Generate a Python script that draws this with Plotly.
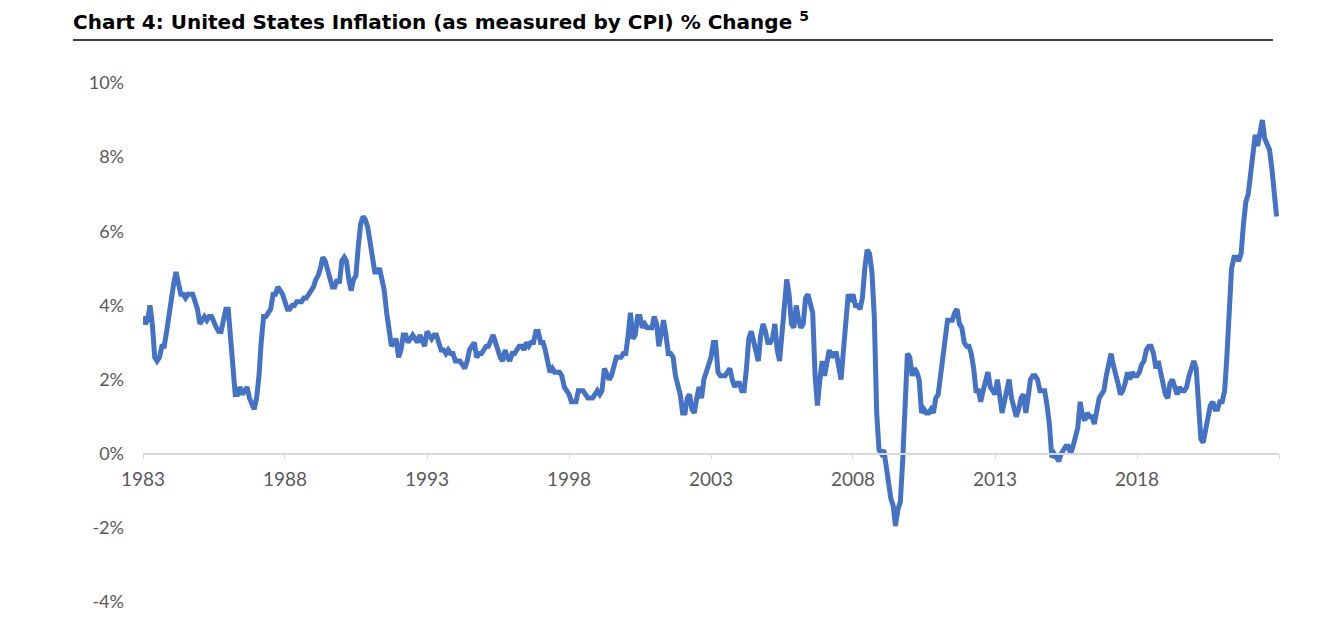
import pandas as pd
import plotly.graph_objs as go

# monthly CPI % change (year on year), Jan 1983 - Dec 2022
cpi_1980s = [
    3.7, 3.5, 3.6, 4.0, 3.5, 2.6, 2.5, 2.6, 2.9, 2.9, 3.3, 3.8,   # 1983
    4.2, 4.6, 4.9, 4.6, 4.3, 4.3, 4.2, 4.3, 4.3, 4.3, 4.1, 3.9,   # 1984
    3.5, 3.6, 3.7, 3.6, 3.7, 3.7, 3.5, 3.4, 3.3, 3.3, 3.6, 3.9,   # 1985
    3.9, 3.1, 2.2, 1.6, 1.6, 1.8, 1.6, 1.7, 1.8, 1.5, 1.3, 1.2,   # 1986
    1.5, 2.1, 3.0, 3.7, 3.7, 3.8, 3.9, 4.3, 4.3, 4.5, 4.4, 4.3,   # 1987
    4.1, 3.9, 3.9, 4.0, 4.0, 4.1, 4.1, 4.1, 4.2, 4.2, 4.3, 4.4,   # 1988
    4.5, 4.7, 4.8, 5.0, 5.3, 5.2, 5.0, 4.7, 4.5, 4.5, 4.7, 4.6,   # 1989
]
cpi_1990s = [
    5.2, 5.3, 5.2, 4.7, 4.4, 4.7, 4.8, 5.6, 6.2, 6.4, 6.3, 6.1,   # 1990
    5.7, 5.3, 4.9, 4.9, 5.0, 4.7, 4.4, 3.8, 3.4, 2.9, 3.0, 3.1,   # 1991
    2.6, 2.8, 3.2, 3.2, 3.0, 3.1, 3.2, 3.1, 3.0, 3.2, 3.0, 2.9,   # 1992
    3.3, 3.2, 3.1, 3.2, 3.2, 3.0, 2.8, 2.8, 2.7, 2.8, 2.7, 2.7,   # 1993
    2.5, 2.5, 2.5, 2.4, 2.3, 2.5, 2.8, 2.9, 3.0, 2.6, 2.7, 2.7,   # 1994
    2.8, 2.9, 2.9, 3.1, 3.2, 3.0, 2.8, 2.6, 2.5, 2.8, 2.6, 2.5,   # 1995
    2.7, 2.7, 2.8, 2.9, 2.9, 2.8, 3.0, 2.9, 3.0, 3.0, 3.3, 3.3,   # 1996
    3.0, 3.0, 2.8, 2.5, 2.2, 2.3, 2.2, 2.2, 2.2, 2.1, 1.8, 1.7,   # 1997
    1.6, 1.4, 1.4, 1.4, 1.7, 1.7, 1.7, 1.6, 1.5, 1.5, 1.5, 1.6,   # 1998
    1.7, 1.6, 1.7, 2.3, 2.1, 2.0, 2.1, 2.3, 2.6, 2.6, 2.6, 2.7,   # 1999
]
cpi_2000s = [
    2.7, 3.2, 3.8, 3.1, 3.2, 3.7, 3.7, 3.4, 3.5, 3.4, 3.4, 3.4,   # 2000
    3.7, 3.5, 2.9, 3.3, 3.6, 3.2, 2.7, 2.7, 2.6, 2.1, 1.9, 1.6,   # 2001
    1.1, 1.1, 1.5, 1.6, 1.2, 1.1, 1.5, 1.8, 1.5, 2.0, 2.2, 2.4,   # 2002
    2.6, 3.0, 3.0, 2.2, 2.1, 2.1, 2.1, 2.2, 2.3, 2.0, 1.8, 1.9,   # 2003
    1.9, 1.7, 1.7, 2.3, 3.1, 3.3, 3.0, 2.7, 2.5, 3.2, 3.5, 3.3,   # 2004
    3.0, 3.0, 3.1, 3.5, 2.8, 2.5, 3.2, 3.6, 4.7, 4.3, 3.5, 3.4,   # 2005
    4.0, 3.6, 3.4, 3.5, 4.2, 4.3, 4.1, 3.8, 2.1, 1.3, 2.0, 2.5,   # 2006
    2.1, 2.4, 2.8, 2.6, 2.7, 2.7, 2.4, 2.0, 2.8, 3.5, 4.3, 4.1,   # 2007
    4.3, 4.0, 4.0, 3.9, 4.2, 5.0, 5.5, 5.4, 4.9, 3.7, 1.1, 0.1,   # 2008
    0.0, 0.1, -0.4, -0.7, -1.2, -1.4, -1.95, -1.5, -1.3, -0.2, 1.8, 2.7,   # 2009
]
cpi_2010s = [
    2.6, 2.1, 2.3, 2.2, 2.0, 1.1, 1.2, 1.1, 1.1, 1.2, 1.1, 1.5,   # 2010
    1.6, 2.1, 2.7, 3.2, 3.6, 3.6, 3.6, 3.8, 3.9, 3.5, 3.4, 3.0,   # 2011
    2.9, 2.9, 2.7, 2.3, 1.7, 1.7, 1.4, 1.7, 2.0, 2.2, 1.8, 1.7,   # 2012
    1.6, 2.0, 1.5, 1.1, 1.4, 1.8, 2.0, 1.5, 1.2, 1.0, 1.2, 1.5,   # 2013
    1.6, 1.1, 1.5, 2.0, 2.1, 2.1, 2.0, 1.7, 1.7, 1.7, 1.3, 0.8,   # 2014
    -0.1, 0.0, -0.1, -0.2, 0.0, 0.1, 0.2, 0.2, 0.0, 0.2, 0.5, 0.7,   # 2015
    1.4, 1.0, 0.9, 1.1, 1.0, 1.0, 0.8, 1.1, 1.5, 1.6, 1.7, 2.1,   # 2016
    2.5, 2.7, 2.4, 2.2, 1.9, 1.6, 1.7, 1.9, 2.2, 2.0, 2.2, 2.1,   # 2017
    2.1, 2.2, 2.4, 2.5, 2.8, 2.9, 2.9, 2.7, 2.3, 2.5, 2.2, 1.9,   # 2018
    1.6, 1.5, 1.9, 2.0, 1.8, 1.6, 1.8, 1.7, 1.7, 1.8, 2.1, 2.3,   # 2019
]
cpi_2020s = [
    2.5, 2.3, 1.5, 0.4, 0.3, 0.6, 1.0, 1.3, 1.4, 1.2, 1.2, 1.4,   # 2020
    1.4, 1.7, 2.6, 4.2, 5.0, 5.3, 5.3, 5.2, 5.4, 6.2, 6.8, 7.0,   # 2021
    7.5, 7.9, 8.6, 8.3, 8.6, 9.0, 8.5, 8.3, 8.2, 7.7, 7.1, 6.4,   # 2022
]

cpi = cpi_1980s + cpi_1990s + cpi_2000s + cpi_2010s + cpi_2020s
months = pd.date_range('1983-01-01', periods=len(cpi), freq='MS')

tick_dates = ['1983-01-01', '1988-01-01', '1993-01-01', '1998-01-01',
              '2003-01-01', '2008-01-01', '2013-01-01', '2018-01-01']
tick_labels = ['1983', '1988', '1993', '1998', '2003', '2008', '2013', '2018']
y_ticks = [-4, -2, 0, 2, 4, 6, 8, 10]
y_labels = ['-4%', '-2%', '0%', '2%', '4%', '6%', '8%', '10%']

font_name = 'Lato'
grey = '#595959'
axis_grey = '#d9d9d9'

fig = go.Figure(go.Scatter(
    x=months, y=cpi,
    mode='lines',
    line=dict(color='#4472C4', width=5),
    hoverinfo='x+y'
))

fig.update_layout(
    width=1342, height=626,
    margin=dict(l=135, r=71, t=75, b=32),
    paper_bgcolor='white', plot_bgcolor='white',
    showlegend=False,
    font=dict(family=font_name, color=grey, size=16),
    title=dict(
        text='<b>Chart 4: United States Inflation (as measured by CPI) % Change <sup>5</sup></b>',
        font=dict(family='DejaVu Sans', size=20, color='black'),
        xref='container', yref='container',
        x=65 / 1342, y=1 - 14 / 626,
        xanchor='left', yanchor='middle'
    ),
    xaxis=dict(
        range=['1983-01-01', '2023-01-01'],
        tickmode='array', tickvals=tick_dates, ticktext=tick_labels,
        anchor='free', position=4 / 14,
        showline=True, linecolor=axis_grey, linewidth=1.5,
        ticks='outside', ticklen=5, tickcolor=axis_grey,
        minor=dict(tick0='1983-01-01', dtick='M60', ticks='outside',
                   ticklen=5, tickcolor=axis_grey, showgrid=False),
        showgrid=False, zeroline=False,
        ticklabelstandoff=4,
        tickfont=dict(size=19, color=grey)
    ),
    yaxis=dict(
        range=[-4, 10],
        tickmode='array', tickvals=y_ticks, ticktext=y_labels,
        showline=False, showgrid=False, zeroline=False,
        ticklabelstandoff=18,
        tickfont=dict(size=18, color=grey)
    ),
    shapes=[dict(
        type='line', xref='paper', yref='paper',
        x0=(73 - 143) / 1136, x1=(1273 - 143) / 1136,
        y0=(602 - 40) / 519, y1=(602 - 40) / 519,
        line=dict(color='black', width=1.5)
    )]
)

fig.write_html('out.html')
